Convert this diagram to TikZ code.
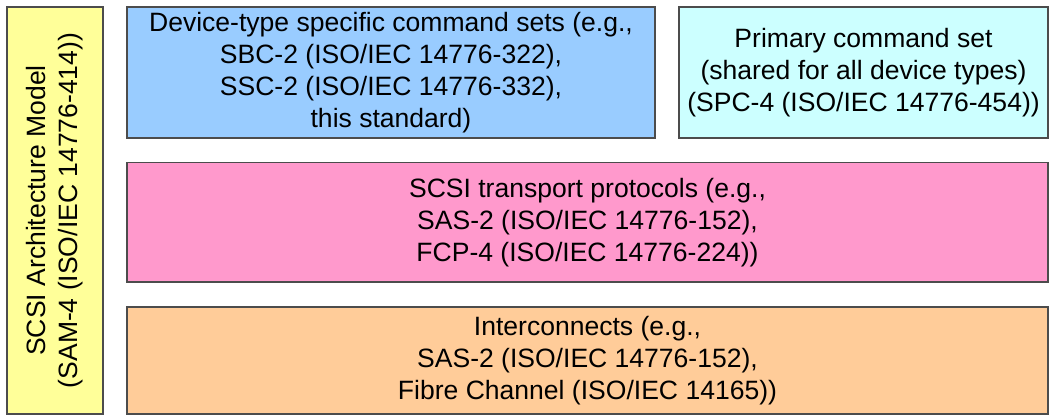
\documentclass[tikz,border=0pt]{standalone}
\usepackage{fontspec}
\setmainfont{Liberation Sans}
\usetikzlibrary{positioning}

\definecolor{samyellow}{HTML}{FFFF99}
\definecolor{cmdblue}{HTML}{99CCFF}
\definecolor{spccyan}{HTML}{CCFFFF}
\definecolor{transpink}{HTML}{FF99CC}
\definecolor{icorange}{HTML}{FFCC99}

\begin{document}
\begin{tikzpicture}[x=0.75pt, y=-0.75pt]
		\tikzstyle{layer}=[draw=black!70, line width=0.8pt, align=center, inner sep=0pt, font=\fontsize{19.9}{24}\selectfont]
		\tikzstyle{sam box}=[layer, fill=samyellow, rotate=90, minimum width=305.25pt, minimum height=72pt]
		\tikzstyle{device box}=[layer, fill=cmdblue, minimum width=396pt, minimum height=98.25pt]
		\tikzstyle{primary box}=[layer, fill=spccyan, minimum width=276.75pt, minimum height=98.25pt]
		\tikzstyle{transport box}=[layer, fill=transpink, minimum width=690.75pt, minimum height=89.6pt]
		\tikzstyle{interconnect box}=[layer, fill=icorange, minimum width=690.75pt, minimum height=80.25pt]

		\useasboundingbox (0,0) rectangle (1051,415);

		% Draw the architecture model column
		\node[sam box] (SAM) at (55,210.5) {SCSI Architecture Model\\(SAM-4 (ISO/IEC 14776-414))};

		% Draw the command set layer
		\node[device box] (CMD-dev) at (391,72.5) {Device-type specific command sets (e.g.,\\SBC-2 (ISO/IEC 14776-322),\\SSC-2 (ISO/IEC 14776-332),\\this standard)};
		\node[primary box] (CMD-spc) at (863.5,72.5) {Primary command set\\(shared for all device types)\\(SPC-4 (ISO/IEC 14776-454))};

		% Draw the transport layer
		\node[transport box] (TP) at (587.5,222.25) {SCSI transport protocols (e.g.,\\SAS-2 (ISO/IEC 14776-152),\\FCP-4 (ISO/IEC 14776-224))};

		% Draw the interconnect layer
		\node[interconnect box] (IC) at (587.5,360.5) {Interconnects (e.g.,\\SAS-2 (ISO/IEC 14776-152),\\Fibre Channel (ISO/IEC 14165))};
	\end{tikzpicture}
\end{document}
